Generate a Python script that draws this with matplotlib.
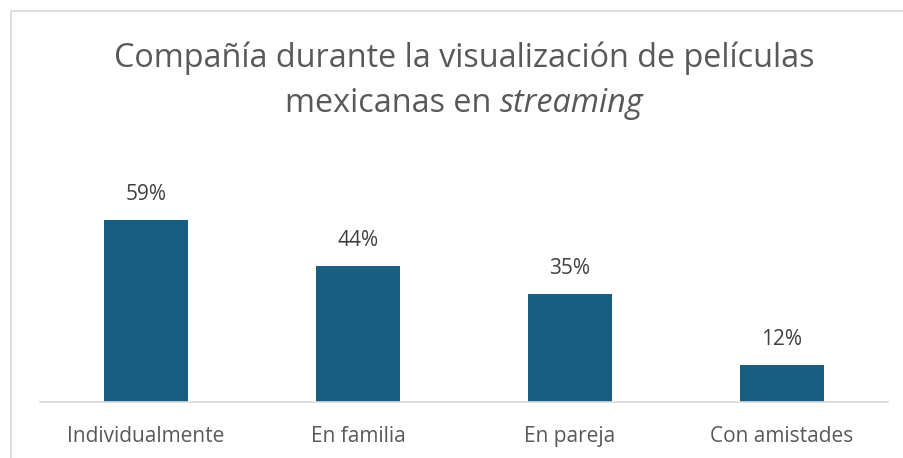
import numpy as np
import matplotlib.pyplot as plt
from matplotlib.patches import Rectangle

categories = ['Individualmente', 'En familia', 'En pareja', 'Con amistades']
values = [59, 44, 35, 12]

bar_color = '#175e80'
text_color = '#595959'
font = 'Open Sans'

fig = plt.figure(figsize=(9.04, 4.58), dpi=100)
fig.patches.append(Rectangle((11 / 904, -0.1), 1.0, 1.1 - 11 / 458, transform=fig.transFigure,
                             fill=False, edgecolor='#d9d9d9', linewidth=1.2))

ax = fig.add_axes([40 / 904, 1 - 402 / 458, 848 / 904, 216 / 458])
x = np.arange(len(categories))
ax.bar(x, values, width=0.4, color=bar_color)
ax.set_xlim(-0.5, len(categories) - 0.5)
ax.set_ylim(0, 70)
ax.set_yticks([])
for s in ['top', 'right', 'left']:
    ax.spines[s].set_visible(False)
ax.spines['bottom'].set_color('#d9d9d9')
ax.spines['bottom'].set_linewidth(1.2)
ax.set_xticks(x)
ax.set_xticklabels(categories, fontsize=15, color=text_color, family=font)
ax.tick_params(axis='x', length=0, pad=17)

for xi, v in zip(x, values):
    ax.annotate(f'{v}%', (xi, v), xytext=(0, 18.5), textcoords='offset points',
                ha='center', va='center', fontsize=15, color='#404040', family=font)

# title, second line partly italic
cx = 464
fig.text(cx / 904, 1 - 58 / 458, 'Compañía durante la visualización de películas',
         ha='center', va='center', fontsize=23.3, color=text_color, family=font)
t1 = fig.text(0, 1 - 103 / 458, 'mexicanas en ', ha='left', va='center',
              fontsize=23.3, color=text_color, family=font)
t2 = fig.text(0, 1 - 103 / 458, 'streaming', ha='left', va='center',
              fontsize=23.3, color=text_color, family=font, style='italic')
r = fig.canvas.get_renderer()
w1 = t1.get_window_extent(r).width
w2 = t2.get_window_extent(r).width
start = cx - (w1 + w2) / 2
t1.set_x(start / 904)
t2.set_x((start + w1) / 904)

fig.savefig('out.png', dpi=100)
